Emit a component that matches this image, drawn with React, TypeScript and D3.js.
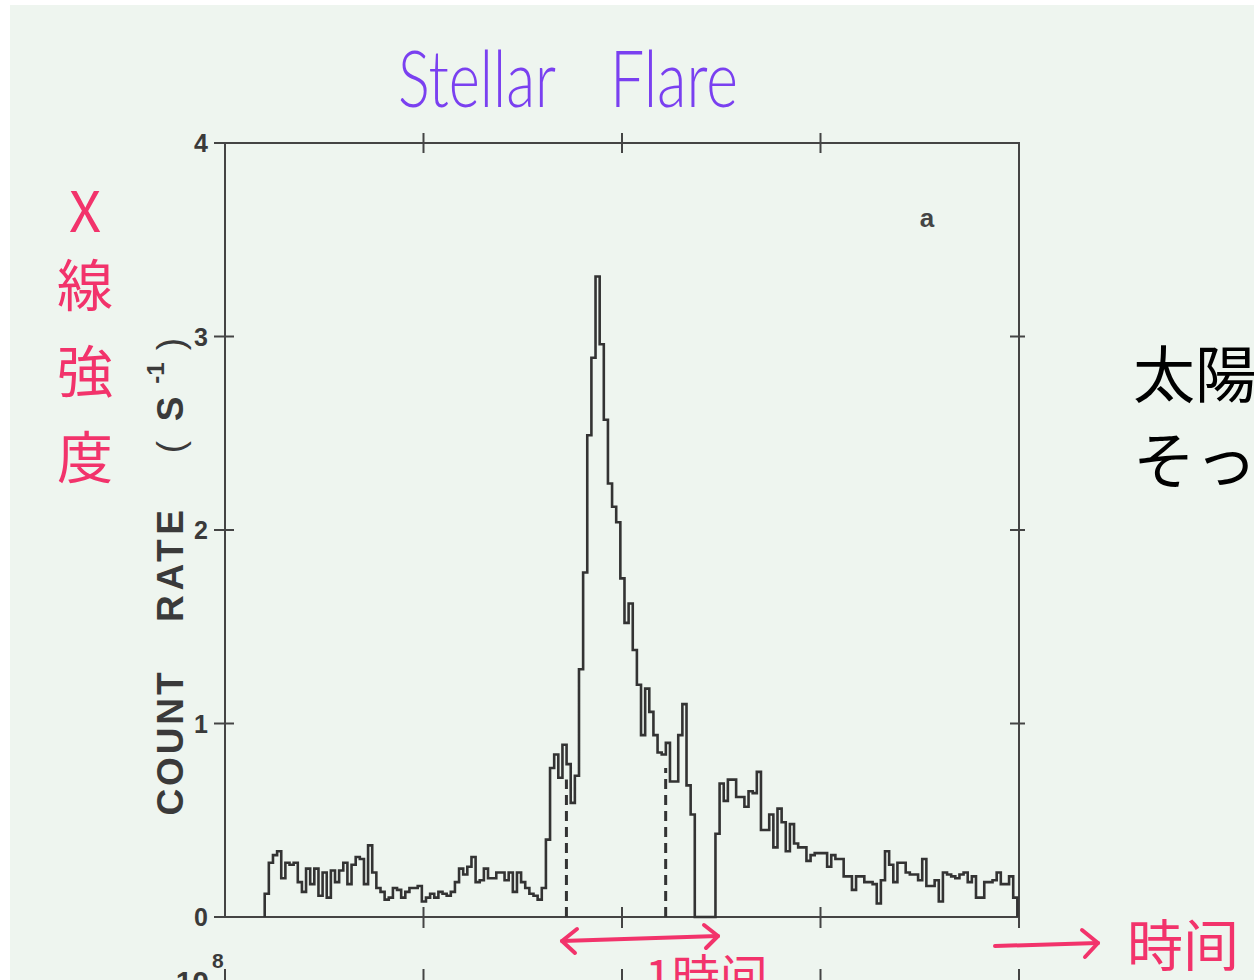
import * as d3 from "d3";

// count rate histogram, 150 s bins, hours from left frame
const binStart = 0.4;
const binWidth = 150 / 3600;
const rates = [
  0.12, 0.28, 0.32, 0.34, 0.20, 0.28, 0.27, 0.28, 0.18, 0.13,
  0.25, 0.17, 0.25, 0.11, 0.23, 0.10, 0.24, 0.18, 0.24, 0.28,
  0.17, 0.27, 0.31, 0.30, 0.17, 0.37, 0.23, 0.15, 0.13, 0.09,
  0.10, 0.15, 0.14, 0.10, 0.13, 0.15, 0.15, 0.16,
  0.08, 0.10, 0.12, 0.10, 0.13, 0.12, 0.11, 0.13, 0.18, 0.25,
  0.22, 0.26, 0.31, 0.18, 0.19, 0.25, 0.20, 0.20, 0.23, 0.23,
  0.19, 0.23, 0.13, 0.23, 0.18, 0.15, 0.12, 0.11, 0.09, 0.15,
  0.40, 0.77, 0.84, 0.72, 0.89, 0.79, 0.59, 0.73, 1.28,
  1.78, 2.49, 2.89, 3.31, 2.96, 2.57, 2.24, 2.12, 2.04, 1.75,
  1.52, 1.62, 1.38, 1.20, 0.94, 1.18, 1.06, 0.94, 0.85, 0.84,
  0.90, 0.70, 0.70, 0.94, 1.10, 0.68, 0.53,
  0, 0, 0, 0, 0,
  0.43, 0.69, 0.60, 0.71, 0.71, 0.62, 0.62, 0.57, 0.65, 0.64,
  0.75, 0.45, 0.45, 0.53, 0.36, 0.56, 0.49, 0.34, 0.48, 0.38,
  0.36, 0.36, 0.29, 0.32, 0.33, 0.33, 0.33, 0.26, 0.32, 0.30,
  0.30, 0.21, 0.21, 0.14, 0.21, 0.21, 0.18, 0.18, 0.17, 0.07,
  0.19, 0.34, 0.27, 0.18, 0.28, 0.28, 0.23, 0.22, 0.22, 0.19,
  0.30, 0.16, 0.16, 0.19, 0.08, 0.23, 0.22, 0.21, 0.20, 0.22,
  0.23, 0.18, 0.21, 0.10, 0.10, 0.18, 0.18, 0.19, 0.23, 0.17,
  0.17, 0.21, 0.10,
];
const markerTimes = [3.44, 4.44];
const markerLevels = [0.71, 0.77];
const yTicks = [0, 1, 2, 3, 4];
const xTicks = [2, 4, 6];
const sideChars = ["X", "線", "強", "度"];

const pink = "#f2336b";
const ink = "#333";

export default function App() {
  const x = d3.scaleLinear().domain([0, 8]).range([225, 1019]);
  const y = d3.scaleLinear().domain([0, 4]).range([917, 143]);

  const pts: [number, number][] = [[binStart, 0]];
  rates.forEach((r, i) => pts.push([binStart + i * binWidth, r]));
  const tEnd = binStart + rates.length * binWidth;
  pts.push([tEnd, rates[rates.length - 1]]);
  pts.push([tEnd, 0]);

  const line = d3
    .line<[number, number]>()
    .x((d) => x(d[0]))
    .y((d) => y(d[1]))
    .curve(d3.curveStepAfter);

  const [x0, x1] = x.range();
  const [y0, y1] = y.range();
  const cjk = "'Noto Sans CJK JP', sans-serif";

  return (
    <svg
      width={1254}
      height={980}
      style={{ position: "absolute", left: 0, top: 0 }}
      fontFamily="'Liberation Sans', Arial, sans-serif"
    >
      <rect width={1254} height={980} fill="#ffffff" />
      <rect x={10} y={5} width={1244} height={975} fill="#eef5ef" />

      {/* title */}
      <g fill="#7a40f0" fontFamily="Lato, 'Open Sans', sans-serif" fontWeight={300} fontSize={78}>
        <text x={398} y={107} textLength={158} lengthAdjust="spacingAndGlyphs">Stellar</text>
        <text x={610} y={107} textLength={128} lengthAdjust="spacingAndGlyphs">Flare</text>
      </g>

      {/* frame */}
      <rect x={x0} y={y1} width={x1 - x0} height={y0 - y1} fill="none" stroke="#444" strokeWidth={2} />

      {/* y ticks left and right */}
      {yTicks.map((t) => (
        <g key={"y" + t}>
          <line x1={x0 - 11} x2={x0 + 9} y1={y(t)} y2={y(t)} stroke="#444" strokeWidth={2} />
          {t > 0 && t < 4 && (
            <line x1={x1 - 9} x2={x1 + 6} y1={y(t)} y2={y(t)} stroke="#444" strokeWidth={2} />
          )}
          <text x={208} y={y(t) + 9} textAnchor="end" fontSize={25} fontWeight="bold" fill="#3a3a3a">
            {t}
          </text>
        </g>
      ))}

      {/* x ticks top and bottom */}
      {xTicks.map((t) => (
        <g key={"x" + t} stroke="#444" strokeWidth={2}>
          <line x1={x(t)} x2={x(t)} y1={y1 - 10} y2={y1 + 10} />
          <line x1={x(t)} x2={x(t)} y1={y0 - 10} y2={y0 + 11} />
        </g>
      ))}
      <line x1={x1} x2={x1} y1={y0} y2={y0 + 11} stroke="#444" strokeWidth={2} />

      {/* marker lines for the 1 hour window */}
      {markerTimes.map((t, i) => (
        <line
          key={"m" + i}
          x1={x(t)}
          x2={x(t)}
          y1={y(0)}
          y2={y(markerLevels[i])}
          stroke={ink}
          strokeWidth={3}
          strokeDasharray="10 6"
        />
      ))}

      {/* light curve */}
      <path d={line(pts) ?? ""} fill="none" stroke={ink} strokeWidth={2.6} strokeLinejoin="miter" />

      <text x={927} y={227} textAnchor="middle" fontSize={26} fontWeight="bold" fill="#444">a</text>

      {/* y axis title */}
      <g fill="#3a3a3a" fontSize={37} fontWeight="bold">
        <text transform="translate(183,744) rotate(-90)" textAnchor="middle" textLength={143} lengthAdjust="spacing">COUNT</text>
        <text transform="translate(183,566) rotate(-90)" textAnchor="middle" textLength={112} lengthAdjust="spacing">RATE</text>
        <text transform="translate(183,447) rotate(-90)" textAnchor="middle" fontWeight="normal">(</text>
        <text transform="translate(183,409) rotate(-90)" textAnchor="middle">S</text>
        <text transform="translate(164,373) rotate(-90)" textAnchor="middle" fontSize={24}>-1</text>
        <text transform="translate(183,344) rotate(-90)" textAnchor="middle" fontWeight="normal">)</text>
      </g>

      {/* handwritten side label */}
      <g fill={pink} fontFamily={cjk} fontSize={56} textAnchor="middle">
        {sideChars.map((c, i) => (
          <text key={c} x={85} y={[232, 306, 392, 478][i]}>{c}</text>
        ))}
      </g>

      {/* right side note */}
      <g fill="#000" fontFamily={cjk} fontSize={62}>
        <text x={1133} y={398}>太陽</text>
        <text x={1133} y={484}>そっ</text>
      </g>

      {/* bottom annotations */}
      <g stroke={pink} strokeWidth={4} fill="none" strokeLinecap="round" strokeLinejoin="round">
        <path d="M562,941 L718,936" />
        <path d="M577,929 L562,941 L575,953" />
        <path d="M704,925 L718,936 L706,948" />
        <path d="M995,946 L1098,943" />
        <path d="M1082,930 L1098,943 L1085,957" />
      </g>
      <g fill={pink} fontFamily={cjk}>
        <text x={645} y={995} fontSize={48}>1時间</text>
        <text x={1127} y={966} fontSize={56}>時间</text>
      </g>

      {/* top of the next panel */}
      <g stroke="#444" strokeWidth={2}>
        <line x1={x0} x2={x1} y1={982} y2={982} />
        {[0, ...xTicks, 8].map((t) => (
          <line key={"n" + t} x1={x(t)} x2={x(t)} y1={969} y2={982} />
        ))}
      </g>
      <text x={209} y={992} textAnchor="end" fontSize={30} fontWeight="bold" fill="#3a3a3a">10</text>
      <text x={212} y={968} fontSize={21} fontWeight="bold" fill="#3a3a3a">8</text>
    </svg>
  );
}
